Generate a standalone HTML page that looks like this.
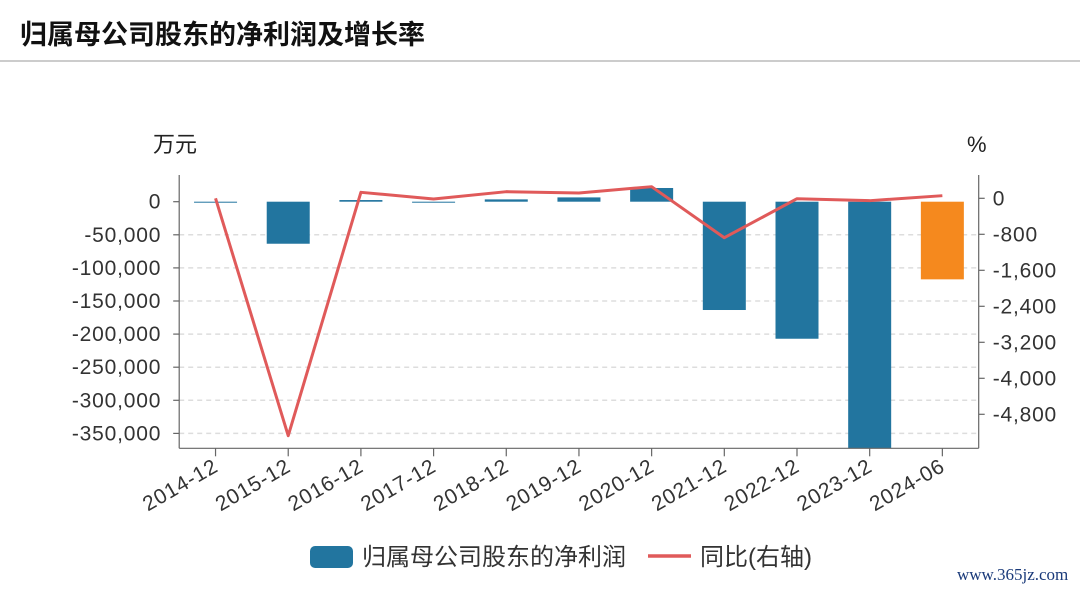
<!DOCTYPE html>
<html><head><meta charset="utf-8"><style>
body{margin:0;background:#fff;font-family:"Liberation Sans","Noto Sans CJK SC",sans-serif;}
#wrap{position:relative;width:1080px;height:592px;overflow:hidden;}
#title{position:absolute;left:20px;top:13px;font-size:27px;font-weight:bold;color:#111;letter-spacing:0px;}
#hr{position:absolute;left:0;top:60px;width:1080px;height:2px;background:#ccc;}
#wm{position:absolute;left:957px;top:565px;font-family:"Liberation Serif",serif;font-size:17px;color:#1a3a7a;}
</style></head><body><div id="wrap">
<div id="title">归属母公司股东的净利润及增长率</div>
<div id="hr"></div>
<svg id="chart" width="1080" height="592" style="position:absolute;left:0;top:0"></svg>
<div id="wm">www.365jz.com</div>
</div>
<script>
const categories=["2014-12","2015-12","2016-12","2017-12","2018-12","2019-12","2020-12","2021-12","2022-12","2023-12","2024-06"];
const profitValues=[-500,-63500,2500,-1500,3500,6500,20700,-163600,-207000,-380000,-117300];
const growthValues=[0,-5275,133,-15,147,118,258,-876,-9,-53,58];
const leftTicks=[0,-50000,-100000,-150000,-200000,-250000,-300000,-350000];
const rightTicks=[0,-800,-1600,-2400,-3200,-4000,-4800];
const NS="http://www.w3.org/2000/svg";
const svg=document.getElementById('chart');
const X0=179.2,X1=978.7,YT=175,YB=448.3;
const band=(X1-X0)/categories.length;
const xC=i=>X0+band*(i+0.5);
const yL=v=>201.7-v*(33.1/50000);
const yR=v=>198.3-v*(36/800);
function mk(t,a){const e=document.createElementNS(NS,t);for(const k in a)e.setAttribute(k,a[k]);svg.appendChild(e);return e;}
const fmt=v=>(v<0?"-":"")+Math.abs(v).toLocaleString('en-US');
leftTicks.forEach(v=>{
 const y=yL(v);
 if(v!==0){const g=mk('line',{x1:X0,x2:X1,y1:y,y2:y,stroke:'#ddd','stroke-width':1.5,'stroke-dasharray':'5,4'});
 
 }
 const t=mk('line',{x1:X0-6,x2:X0,y1:y,y2:y,stroke:'#666','stroke-width':1.2});
 
 
 const l=mk('text',{x:X0-18,y:y+7,'text-anchor':'end','font-size':21,'letter-spacing':0.8,fill:'#333'});
 l.textContent=fmt(v);
 
 
});
rightTicks.forEach(v=>{
 const y=yR(v);
 const t=mk('line',{x1:X1,x2:X1+6,y1:y,y2:y,stroke:'#666','stroke-width':1.2});
 
 
 const l=mk('text',{x:X1+14,y:y+7,'font-size':21,'letter-spacing':0.8,fill:'#333'});
 l.textContent=fmt(v);
 
 
});
const clip=mk('clipPath',{id:'pc'});
const cr=document.createElementNS(NS,'rect');
cr.setAttribute('x',X0);cr.setAttribute('y',YT);cr.setAttribute('width',X1-X0);cr.setAttribute('height',YB-YT);
clip.appendChild(cr);
profitValues.forEach((v,i)=>{
 const y0=yL(0),y1=yL(v);
 const b=mk('rect',{x:xC(i)-21.5,width:43,y:Math.min(y0,y1),height:Math.max(1,Math.abs(y1-y0)),fill:i===categories.length-1?'#f5891e':'#22759f','clip-path':'url(#pc)'});
 
 
});
mk('line',{x1:X0,x2:X0,y1:YT,y2:YB,stroke:'#666','stroke-width':1.2});
mk('line',{x1:X1,x2:X1,y1:YT,y2:YB,stroke:'#666','stroke-width':1.2});
mk('line',{x1:X0,x2:X1,y1:YB,y2:YB,stroke:'#666','stroke-width':1.2});
categories.forEach((c,i)=>{
 const x=xC(i);
 const t=mk('line',{x1:x,x2:x,y1:YB,y2:YB+8,stroke:'#666','stroke-width':1.2});
 
 
 const l=mk('text',{x:x+4,y:YB+22,'text-anchor':'end','font-size':21,'letter-spacing':0.8,fill:'#333',transform:`rotate(-30 ${x+4} ${YB+22})`});
 l.textContent=c;
 
 
});
const pts=growthValues.map((v,i)=>xC(i)+','+yR(v)).join(' ');
const pl=mk('polyline',{points:pts,fill:'none',stroke:'#e05a5a','stroke-width':3,'stroke-linejoin':'round'});


const u1=mk('text',{x:153,y:152,'font-size':22,fill:'#222'});u1.textContent='万元';


const u2=mk('text',{x:967,y:152,'font-size':22,fill:'#222'});u2.textContent='%';


const sw=mk('rect',{x:310,y:546,width:43,height:22,rx:5,fill:'#22759f'});


const lt1=mk('text',{x:362,y:565,'font-size':24,fill:'#333'});lt1.textContent='归属母公司股东的净利润';


const ll=mk('line',{x1:648,x2:691,y1:556,y2:556,stroke:'#e05a5a','stroke-width':3.5});


const lt2=mk('text',{x:700,y:565,'font-size':24,fill:'#333'});lt2.textContent='同比(右轴)';


</script></body></html>
